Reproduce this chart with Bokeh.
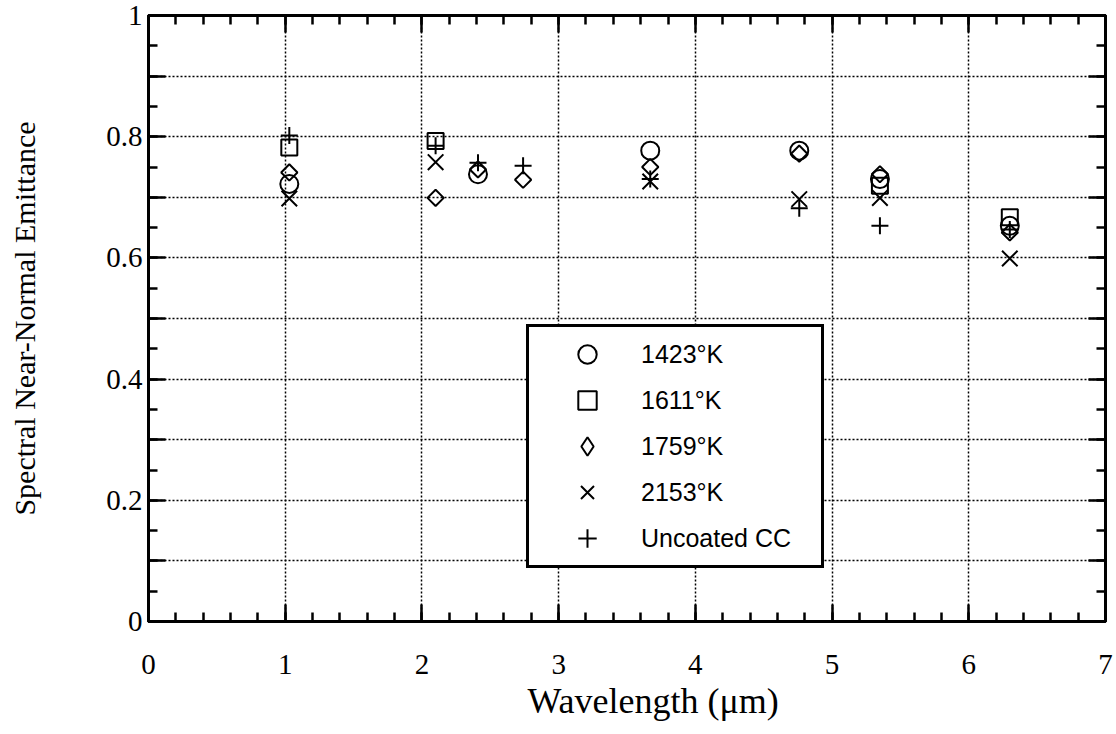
import math
from bokeh.plotting import figure
from bokeh.models import FixedTicker, LinearAxis, Legend, LegendItem, Title
from bokeh.embed import file_html
from bokeh.resources import INLINE

# ---- data ----
x_1423 = [1.03, 2.41, 3.67, 4.76, 5.35, 6.30]
y_1423 = [0.722, 0.738, 0.777, 0.777, 0.730, 0.653]

x_1611 = [1.03, 2.10, 5.35, 6.30]
y_1611 = [0.782, 0.793, 0.719, 0.667]

x_1759 = [1.03, 2.10, 2.41, 2.74, 3.67, 4.76, 5.35, 6.30]
y_1759 = [0.741, 0.699, 0.746, 0.729, 0.750, 0.772, 0.738, 0.642]

x_2153 = [1.03, 2.10, 3.67, 4.76, 5.35, 6.30]
y_2153 = [0.698, 0.758, 0.726, 0.697, 0.699, 0.599]

x_unc = [1.03, 2.10, 2.41, 2.74, 3.67, 4.76, 5.35, 6.30]
y_unc = [0.802, 0.785, 0.757, 0.752, 0.730, 0.682, 0.653, 0.647]

labels = ["1423°K", "1611°K", "1759°K", "2153°K", "Uncoated CC"]
x_title = "Wavelength (μm)"
y_title = "Spectral Near-Normal Emittance"

x_major = [0, 1, 2, 3, 4, 5, 6, 7]
x_minor = [i / 5 for i in range(0, 36)]
y_major = [0, 0.1, 0.2, 0.3, 0.4, 0.5, 0.6, 0.7, 0.8, 0.9, 1]
y_minor = [i / 20 for i in range(0, 21)]
y_tick_text = {0: "0", 0.1: "", 0.2: "0.2", 0.3: "", 0.4: "0.4", 0.5: "",
               0.6: "0.6", 0.7: "", 0.8: "0.8", 0.9: "", 1: "1"}

SERIF = "Liberation Serif"
SANS = "Liberation Sans"

p = figure(width=1116, height=734, x_range=(0, 7), y_range=(0, 1),
           output_backend="svg", toolbar_location=None,
           min_border_left=148, min_border_right=11,
           min_border_top=15, min_border_bottom=113,
           y_axis_label=y_title)
p.background_fill_color = "white"
p.border_fill_color = "white"
p.outline_line_color = "black"
p.outline_line_width = 3

xt = FixedTicker(ticks=x_major, minor_ticks=x_minor)
yt = FixedTicker(ticks=y_major, minor_ticks=y_minor)

def style_axis(ax, labels_on):
    ax.axis_line_color = "black"
    ax.axis_line_width = 3
    ax.major_tick_in = 17
    ax.major_tick_out = 0
    ax.minor_tick_in = 9
    ax.minor_tick_out = 0
    ax.major_tick_line_width = 2.5
    ax.minor_tick_line_width = 2.5
    ax.major_tick_line_color = "black"
    ax.minor_tick_line_color = "black"
    if labels_on:
        ax.major_label_text_font = SERIF
        ax.major_label_text_font_size = "29px"
        ax.major_label_text_color = "black"
        ax.axis_label_text_font = SERIF
        ax.axis_label_text_font_style = "normal"
        ax.axis_label_text_color = "black"
    else:
        ax.major_label_text_font_size = "0px"
        ax.major_label_standoff = 0

xa = p.xaxis[0]
ya = p.yaxis[0]
xa.ticker = xt
ya.ticker = yt
ya.major_label_overrides = y_tick_text
style_axis(xa, True)
style_axis(ya, True)
ya.axis_label_text_font_size = "30px"
xa.major_label_standoff = 33
ya.major_label_standoff = 6
ya.axis_label_standoff = 62

# x-axis title, placed slightly right of centre as in the reference
xtitle = Title(text=x_title, align="left", offset=379, standoff=5,
               text_font=SERIF, text_font_size="36px",
               text_font_style="normal", text_color="black")
p.add_layout(xtitle, "below")

top = LinearAxis(ticker=xt)
right = LinearAxis(ticker=yt)
style_axis(top, False)
style_axis(right, False)
p.add_layout(top, "above")
p.add_layout(right, "right")

p.xgrid.ticker = xt
p.ygrid.ticker = yt
for g in (p.xgrid[0], p.ygrid[0]):
    g.grid_line_color = "black"
    g.grid_line_width = 1.5
    g.grid_line_dash = "2 2"

LW = 2
r1 = p.scatter(x_1423, y_1423, marker="circle", size=18, fill_color=None,
               line_color="black", line_width=LW)
r2 = p.scatter(x_1611, y_1611, marker="square", size=16, fill_color=None,
               line_color="black", line_width=LW)
r3 = p.scatter(x_1759, y_1759, marker="square", angle=math.pi / 4, size=11.5,
               fill_color=None, line_color="black", line_width=LW)
r4 = p.scatter(x_2153, y_2153, marker="x", size=22, line_color="black",
               line_width=LW)
r5 = p.scatter(x_unc, y_unc, marker="cross", size=17, line_color="black",
               line_width=LW)
# legend key for the diamonds (legend glyphs are drawn unrotated);
# zero size on the plot, the legend sets its own glyph size
r3_key = p.scatter(x_1759, y_1759, marker="diamond", size=0, fill_color=None,
                   line_color="black", line_width=LW)

legend = Legend(items=[LegendItem(label=l, renderers=[r])
                       for l, r in zip(labels, [r1, r2, r3_key, r4, r5])],
                location=(378, 53))
legend.glyph_width = 108
legend.glyph_height = 46
legend.label_standoff = 0
legend.label_width = 176
legend.spacing = 0
legend.padding = 4
legend.margin = 0
legend.border_line_color = "black"
legend.border_line_alpha = 1
legend.border_line_width = 3
legend.background_fill_color = "white"
legend.background_fill_alpha = 1
legend.label_text_font = SANS
legend.label_text_font_size = "25px"
legend.label_text_color = "black"
p.add_layout(legend, "center")

open("out.html", "w").write(file_html(p, INLINE))
